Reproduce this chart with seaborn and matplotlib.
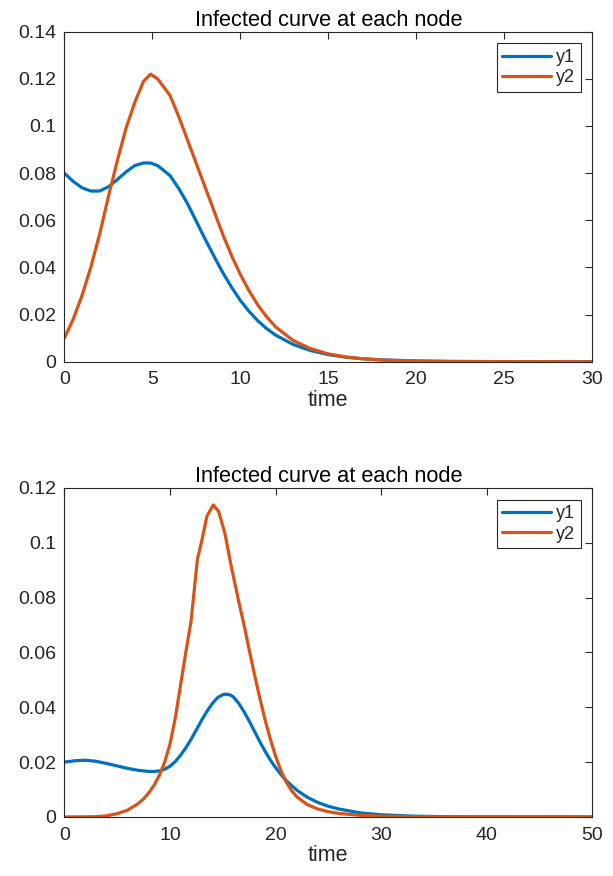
import numpy as np
import pandas as pd
import matplotlib
matplotlib.use("Agg")
import matplotlib.pyplot as plt
import seaborn as sns

# ---- data ----
t_top = [0, 0.5, 1, 1.5, 2, 2.5, 3, 3.5, 4, 4.5, 4.9, 5.3, 6, 6.5, 7, 7.5, 8, 8.5, 9, 9.5,
         10, 10.5, 11, 11.5, 12, 13, 14, 15, 16, 17, 18, 20, 22, 25, 30]
y1_top = [0.080, 0.0765, 0.0738, 0.0724, 0.0724, 0.0742, 0.0772, 0.0805, 0.0832, 0.0843, 0.0843,
          0.0832, 0.0790, 0.0735, 0.0670, 0.0595, 0.0520, 0.0448, 0.0378, 0.0316,
          0.0260, 0.0213, 0.0173, 0.0140, 0.0113, 0.0073, 0.0047, 0.0030, 0.0019, 0.0012,
          0.0008, 0.0003, 0.0001, 0.00003, 0.0]
y2_top = [0.010, 0.018, 0.028, 0.040, 0.054, 0.070, 0.085, 0.099, 0.110, 0.119, 0.122, 0.120,
          0.113, 0.104, 0.094, 0.084, 0.074, 0.064, 0.054, 0.045,
          0.037, 0.030, 0.024, 0.019, 0.0148, 0.0090, 0.0055, 0.0033, 0.0020, 0.0012,
          0.0007, 0.0003, 0.0001, 0.00003, 0.0]

t_bot1 = [0, 1, 2, 3, 4, 5, 6, 7, 8, 8.5, 9, 9.5, 10, 10.5, 11, 11.5, 12, 12.5, 13, 13.5,
          14, 14.5, 15, 15.3, 15.7, 16, 16.5, 17, 17.5, 18, 18.5, 19, 19.5, 20, 20.5, 21,
          22, 23, 24, 25, 26, 28, 30, 33, 36, 40, 50]
y1_bot = [0.0200, 0.0205, 0.0207, 0.0203, 0.0195, 0.0186, 0.0177, 0.0170, 0.0166, 0.0166,
          0.0168, 0.0174, 0.0185, 0.0202, 0.0225, 0.0252, 0.0283, 0.0318, 0.0353, 0.0385,
          0.0413, 0.0435, 0.0446, 0.0448, 0.0445, 0.0438, 0.0415, 0.0385, 0.0350, 0.0313,
          0.0275, 0.0240, 0.0208, 0.0180, 0.0155, 0.0133, 0.0098, 0.0072, 0.0053, 0.0039,
          0.0029, 0.0015, 0.0008, 0.0003, 0.0001, 0.00003, 0.0]

t_bot2 = [0, 1, 2, 3, 4, 5, 6, 7, 7.5, 8, 8.5, 9, 9.5, 10, 10.5, 11, 11.5, 12, 12.6, 13,
          13.5, 14.1, 14.6, 15.2, 15.8, 16.5, 17, 17.5, 18, 18.5, 19, 19.5, 20, 20.5, 21,
          21.5, 22, 23, 24, 25, 26, 28, 30, 35, 40, 50]
y2_bot = [0.0, 0.00002, 0.00005, 0.0001, 0.0004, 0.0012, 0.0025, 0.0049, 0.0066, 0.0088,
          0.0116, 0.0152, 0.0200, 0.0265, 0.0360, 0.0480, 0.0600, 0.0715, 0.0940, 0.1005,
          0.1097, 0.1138, 0.1115, 0.1035, 0.0915, 0.0788, 0.0703, 0.0610, 0.0520, 0.0435,
          0.0355, 0.0285, 0.0222, 0.0170, 0.0128, 0.0097, 0.0074, 0.0045, 0.0029, 0.0019,
          0.0013, 0.0006, 0.0003, 0.00005, 0.0, 0.0]

series_names = ["y1", "y2"]
title_text = "Infected curve at each node"
xlabel_text = "time"

sns.set_theme(style="white")
plt.rcParams["font.family"] = ["Liberation Sans", "DejaVu Sans"]

colors = {"y1": "#0072BD", "y2": "#D95319"}
dark = "#262626"

fig = plt.figure(figsize=(6.13, 8.76), dpi=100)
ax1 = fig.add_axes([0.105, 0.5871, 0.8613, 0.3767])
ax2 = fig.add_axes([0.105, 0.0674, 0.8613, 0.3756])


def make_df(ta, a, tb, b):
    return pd.concat([
        pd.DataFrame({"time": ta, "value": a, "series": series_names[0]}),
        pd.DataFrame({"time": tb, "value": b, "series": series_names[1]}),
    ], ignore_index=True)


def style(ax, xmax, xticks, ymax, yticks, ylabels):
    ax.set_xlim(0, xmax)
    ax.set_ylim(0, ymax)
    ax.set_xticks(xticks)
    ax.set_xticklabels([str(v) for v in xticks])
    ax.set_yticks(yticks)
    ax.set_yticklabels(ylabels)
    ax.tick_params(direction="in", length=5, width=0.8, colors=dark, labelsize=14,
                   top=True, right=True)
    ax.tick_params(axis="x", pad=7)
    ax.tick_params(axis="y", pad=6)
    for s in ax.spines.values():
        s.set_visible(True)
        s.set_color(dark)
        s.set_linewidth(0.8)
    ax.set_title(title_text, fontsize=15.7, color="black", pad=4)
    ax.set_xlabel(xlabel_text, fontsize=15.5, color=dark, labelpad=1)
    ax.set_ylabel("")
    leg = ax.legend(loc="upper right", fontsize=13, frameon=True, fancybox=False,
                    framealpha=1, edgecolor=dark, handlelength=2.7, handletextpad=0.3,
                    borderaxespad=0.65, borderpad=0.3, labelspacing=0.2)
    leg.get_frame().set_linewidth(0.8)
    for line in leg.get_lines():
        line.set_linewidth(2.3)
    ax.grid(False)


df1 = make_df(t_top, y1_top, t_top, y2_top)
sns.lineplot(data=df1, x="time", y="value", hue="series", palette=colors, ax=ax1,
             estimator=None, sort=False, linewidth=2.3)
style(ax1, 30, [0, 5, 10, 15, 20, 25, 30], 0.14,
      [0, 0.02, 0.04, 0.06, 0.08, 0.1, 0.12, 0.14],
      ["0", "0.02", "0.04", "0.06", "0.08", "0.1", "0.12", "0.14"])

df2 = make_df(t_bot1, y1_bot, t_bot2, y2_bot)
sns.lineplot(data=df2, x="time", y="value", hue="series", palette=colors, ax=ax2,
             estimator=None, sort=False, linewidth=2.3)
style(ax2, 50, [0, 10, 20, 30, 40, 50], 0.12,
      [0, 0.02, 0.04, 0.06, 0.08, 0.1, 0.12],
      ["0", "0.02", "0.04", "0.06", "0.08", "0.1", "0.12"])

fig.savefig("out.png", dpi=100, facecolor="white")
